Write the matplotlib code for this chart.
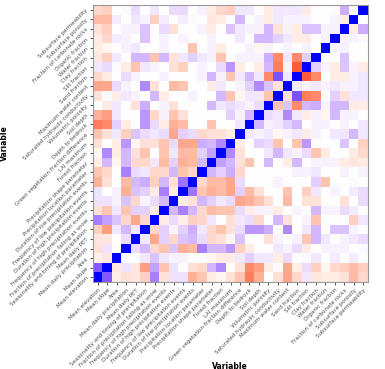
import numpy as np
import matplotlib
matplotlib.use("Agg")
import matplotlib.pyplot as plt
from matplotlib.colors import ListedColormap

variables = [
    "Mean elevation", "Mean slope", "Area", "Mean daily precipitation",
    "Mean daily PET", "Seasonality and timing of precipitation",
    "Fraction of precipitation falling as snow",
    "Frequency of high precipitation events",
    "Duration of high precipitation events",
    "Frequency of low precipitation events",
    "Duration of low precipitation events",
    "Precipitation location parameter", "Precipitation shape parameter",
    "Forest fraction", "LAI maximum",
    "Green vegetation fraction difference", "Depth to bedrock", "Soil depth",
    "Volumetric porosity", "Saturated hydraulic conductivity",
    "Maximum water content", "Sand fraction", "Silt fraction", "Clay fraction",
    "Water fraction", "Organic fraction", "Fraction of carbonate rocks",
    "Subsurface porosity", "Subsurface permeability",
]

# lower triangle of the correlation matrix: lower[i] = corr with variables 0 .. i-1
lower = [
    [],
    [0.72],
    [-0.08, -0.12],
    [-0.15, 0.12, 0.0],
    [-0.12, -0.12, 0.0, 0.15],
    [-0.25, -0.5, 0.1, 0.3, 0.1],
    [0.55, 0.4, 0.25, -0.2, -0.45, -0.2],
    [-0.15, -0.3, 0.1, -0.3, 0.2, 0.2, -0.1],
    [0.12, 0.12, 0.05, 0.25, -0.2, 0.05, 0.15, 0.3],
    [0.12, 0.0, 0.05, -0.4, 0.25, 0.2, -0.1, 0.55, -0.1],
    [-0.4, -0.15, 0.0, -0.35, 0.3, 0.35, -0.25, 0.3, -0.15, 0.6],
    [-0.3, -0.2, 0.0, 0.55, 0.15, 0.1, -0.2, -0.2, 0.3, -0.3, -0.2],
    [-0.1, 0.3, -0.05, 0.3, -0.2, -0.2, 0.1, -0.35, 0.2, -0.4, -0.35, 0.3],
    [-0.05, 0.5, -0.1, 0.3, -0.15, -0.3, 0.0, -0.3, 0.1, -0.35, -0.35, 0.2,
     0.4],
    [-0.15, 0.0, -0.1, 0.45, -0.05, -0.15, -0.15, -0.3, 0.15, -0.45, -0.45,
     0.35, 0.3, 0.5],
    [-0.3, -0.15, 0.1, -0.25, 0.25, 0.15, 0.1, 0.15, -0.45, 0.2, 0.15, -0.2,
     -0.15, -0.15, -0.1],
    [-0.65, -0.6, 0.2, -0.1, 0.0, 0.45, 0.15, -0.1, -0.4, -0.35, 0.0, 0.0, -0.3,
     0.0, 0.0, 0.1],
    [-0.4, -0.5, 0.1, 0.0, 0.0, 0.45, -0.2, 0.05, -0.3, -0.15, 0.0, 0.0, 0.0,
     0.0, 0.2, 0.05, 0.3],
    [0.0, -0.1, 0.1, 0.0, -0.15, 0.35, 0.0, 0.05, -0.15, 0.0, 0.0, 0.0, 0.3,
     0.1, 0.15, 0.1, 0.05, 0.15],
    [-0.15, 0.02, -0.1, 0.1, 0.05, 0.0, 0.3, -0.1, 0.0, 0.0, 0.05, 0.0, 0.0,
     0.3, -0.3, -0.05, 0.1, 0.1, -0.3],
    [-0.45, -0.45, 0.15, 0.05, 0.0, 0.5, -0.15, 0.0, -0.35, -0.3, 0.0, 0.0,
     -0.1, 0.1, 0.0, 0.05, 0.2, 0.5, 0.25, -0.15],
    [-0.2, -0.1, 0.0, 0.15, 0.05, 0.0, 0.0, 0.05, 0.0, 0.0, 0.0, 0.05, 0.3,
     0.05, -0.3, 0.1, 0.3, 0.1, -0.6, 0.75, 0.1],
    [0.1, 0.15, 0.02, -0.1, -0.3, 0.1, 0.05, 0.0, -0.15, -0.25, 0.0, 0.05, 0.0,
     0.15, 0.45, -0.1, 0.0, -0.1, 0.3, -0.65, 0.05, -0.8],
    [-0.12, -0.25, 0.1, 0.0, 0.3, 0.3, -0.3, 0.3, -0.15, 0.1, 0.2, 0.1, 0.05,
     -0.3, 0.0, 0.05, 0.05, 0.05, 0.35, -0.6, 0.1, -0.6, 0.2],
    [-0.1, -0.05, 0.0, 0.05, 0.1, 0.0, 0.0, 0.05, 0.0, 0.0, -0.3, 0.0, 0.05,
     -0.1, 0.0, 0.0, 0.05, -0.05, 0.05, 0.0, 0.05, 0.0, 0.05, 0.0],
    [-0.1, -0.2, 0.08, 0.05, 0.0, 0.25, 0.0, 0.05, 0.0, 0.05, 0.0, 0.0, 0.05,
     0.0, 0.0, 0.1, 0.0, 0.3, 0.3, 0.2, 0.1, -0.1, -0.1, 0.0, 0.05],
    [-0.15, -0.25, 0.0, 0.05, 0.05, 0.25, 0.0, 0.15, -0.15, 0.0, 0.0, 0.05,
     -0.1, 0.0, 0.25, 0.1, 0.05, 0.05, 0.3, -0.15, 0.05, -0.1, 0.25, 0.25,
     0.05, 0.05],
    [-0.35, -0.35, 0.08, 0.0, 0.1, 0.05, -0.25, 0.08, 0.0, 0.08, 0.02, 0.0,
     -0.12, -0.1, 0.0, 0.3, 0.0, 0.05, -0.1, 0.1, 0.05, 0.05, 0.05, 0.0, 0.0,
     0.05, -0.1],
    [-0.2, -0.25, 0.0, 0.02, 0.15, 0.0, 0.1, 0.0, 0.15, 0.15, 0.0, 0.05, -0.1,
     -0.2, -0.25, 0.1, 0.1, 0.0, -0.1, 0.1, 0.1, 0.1, -0.1, 0.0, 0.0, 0.02,
     0.35, 0.0],
]

n = len(variables)
corr = np.eye(n)
for i, row in enumerate(lower):
    for j, v in enumerate(row):
        corr[i, j] = v
        corr[j, i] = v


def srgb_to_lab(c):
    c = np.asarray(c, float)
    lin = np.where(c <= 0.04045, c / 12.92, ((c + 0.055) / 1.055) ** 2.4)
    m = np.array([[0.4124, 0.3576, 0.1805],
                  [0.2126, 0.7152, 0.0722],
                  [0.0193, 0.1192, 0.9505]])
    xyz = m @ lin / np.array([0.95047, 1.0, 1.08883])
    f = np.where(xyz > 0.008856, np.cbrt(xyz), 7.787 * xyz + 16 / 116)
    return np.array([116 * f[1] - 16, 500 * (f[0] - f[1]), 200 * (f[1] - f[2])])


def lab_to_srgb(lab):
    L, a, b = lab
    fy = (L + 16) / 116
    f = np.array([fy + a / 500, fy, fy - b / 200])
    xyz = np.where(f ** 3 > 0.008856, f ** 3, (f - 16 / 116) / 7.787)
    xyz = xyz * np.array([0.95047, 1.0, 1.08883])
    m = np.array([[3.2406, -1.5372, -0.4986],
                  [-0.9689, 1.8758, 0.0415],
                  [0.0557, -0.2040, 1.0570]])
    lin = np.clip(m @ xyz, 0, None)
    c = np.where(lin <= 0.0031308, 12.92 * lin, 1.055 * lin ** (1 / 2.4) - 0.055)
    return np.clip(c, 0, 1)


# red - white - blue, interpolated in Lab space (ggplot-like gradient2)
red, white, blue = srgb_to_lab([1, 0, 0]), srgb_to_lab([1, 1, 1]), srgb_to_lab([0, 0, 1])
cols = []
for t in np.linspace(-1, 1, 256):
    lab = white + (red - white) * (-t) if t < 0 else white + (blue - white) * t
    cols.append(lab_to_srgb(lab))
cmap = ListedColormap(cols)

fig = plt.figure(figsize=(3.85, 3.69), dpi=100)
ax = fig.add_axes([93 / 385, 1 - 282 / 369, 275 / 385, 277 / 369])
ax.imshow(corr, cmap=cmap, vmin=-1, vmax=1, origin="lower", aspect="auto",
          interpolation="nearest")

ax.set_xticks(np.arange(n))
ax.set_yticks(np.arange(n))
ax.set_xticklabels(variables, rotation=45, ha="right", va="top",
                   rotation_mode="anchor", fontsize=4, color="#4d4d4d")
ax.set_yticklabels(variables, rotation=45, ha="right", va="center",
                   rotation_mode="anchor", fontsize=4, color="#4d4d4d")
ax.tick_params(length=2.5, width=0.6, color="#333333", pad=1.5)
for s in ax.spines.values():
    s.set_color("#999999")
    s.set_linewidth(0.8)

ax.set_ylabel("Variable", fontsize=5.5, fontweight="bold")
ax.yaxis.set_label_coords(-0.305, 0.5)
fig.text(230 / 385, 0.008, "Variable", ha="center", va="center", fontsize=5.5,
         fontweight="bold")

fig.savefig("out.png", dpi=100)
